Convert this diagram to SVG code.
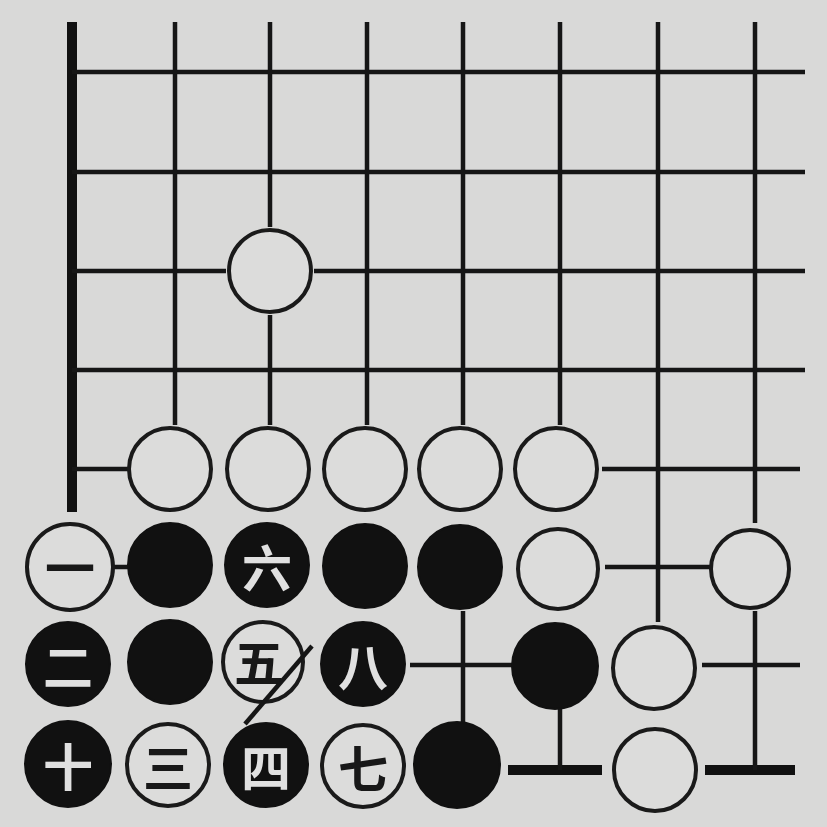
<svg xmlns="http://www.w3.org/2000/svg" width="827" height="827" viewBox="0 0 827 827">
<style>
.g{stroke:#161616;stroke-width:4.5;fill:none;stroke-linecap:butt}
.e{stroke:#111;stroke-width:10;fill:none}
.w{fill:#dcdcdb;stroke:#1a1a1a;stroke-width:4}
.b{fill:#111;stroke:#111;stroke-width:2}
.tb{font-family:"Noto Sans CJK SC","Noto Sans CJK JP",sans-serif;font-size:50px;font-weight:700;fill:#181818;text-anchor:middle;dominant-baseline:central}
.tw{font-family:"Noto Sans CJK SC","Noto Sans CJK JP",sans-serif;font-size:50px;font-weight:700;fill:#e0e0e0;text-anchor:middle;dominant-baseline:central}
</style>
<rect width="827" height="827" fill="#d9d9d8"/>
<g id="connectors">
<path class="e" d="M72 22V512M508 770H602M705 770H795"/>
<path class="g" d="M72 72H805M72 172H805M72 271H226M314 271H805M72 370H805M72 469H130M602 469H800M605 567H712M113 567H132M410 665H516M702 665H800"/>
<path class="g" d="M175 22V425M270 22V227M270 315V425M367 22V425M463 22V425M560 22V425M658 22V622M755 22V523M755 611V770M463 611V723M560 709V770"/>
</g>
<g id="w-r3c2"><circle class="w" cx="270" cy="271" r="41"/></g>
<g id="w-r5c1"><circle class="w" cx="170" cy="469" r="41"/></g>
<g id="w-r5c2"><circle class="w" cx="268" cy="469" r="41"/></g>
<g id="w-r5c3"><circle class="w" cx="365" cy="469" r="41"/></g>
<g id="w-r5c4"><circle class="w" cx="460" cy="469" r="41"/></g>
<g id="w-r5c5"><circle class="w" cx="556" cy="469" r="41"/></g>
<g id="s1"><circle class="w" cx="70" cy="567" r="43"/><text class="tb" x="70" y="565">一</text></g>
<g id="b-r6c1"><circle class="b" cx="170" cy="565" r="42"/></g>
<g id="s6"><circle class="b" cx="267" cy="565" r="42"/><text class="tw" x="267" y="565">六</text></g>
<g id="b-r6c3"><circle class="b" cx="365" cy="566" r="42"/></g>
<g id="b-r6c4"><circle class="b" cx="460" cy="567" r="42"/></g>
<g id="w-r6c5"><circle class="w" cx="558" cy="569" r="40"/></g>
<g id="w-r6c7"><circle class="w" cx="750" cy="569" r="39"/></g>
<g id="s2"><circle class="b" cx="68" cy="664" r="42"/><text class="tw" x="68" y="664">二</text></g>
<g id="b-r7c1"><circle class="b" cx="170" cy="662" r="42"/></g>
<g id="s5"><circle class="w" cx="263" cy="662" r="40"/><text class="tb" x="259" y="660">五</text></g>
<g id="s8"><circle class="b" cx="363" cy="664" r="42"/><text class="tw" x="363" y="664">八</text></g>
<g id="b-r7c5"><circle class="b" cx="555" cy="666" r="43"/></g>
<g id="w-r7c6"><circle class="w" cx="654" cy="668" r="41"/></g>
<g id="s10"><circle class="b" cx="68" cy="764" r="43"/><text class="tw" x="68" y="764">十</text></g>
<g id="s3"><circle class="w" cx="168" cy="765" r="41"/><text class="tb" x="168" y="765">三</text></g>
<g id="s4"><circle class="b" cx="266" cy="765" r="42"/><text class="tw" x="266" y="765">四</text></g>
<g id="s7"><circle class="w" cx="363" cy="766" r="41"/><text class="tb" x="363" y="766">七</text></g>
<g id="b-r8c4"><circle class="b" cx="457" cy="765" r="43"/></g>
<g id="w-r8c6"><circle class="w" cx="655" cy="770" r="41"/></g>
<g id="connector-mark"><path class="g" d="M312 646L245 724"/></g>
</svg>
